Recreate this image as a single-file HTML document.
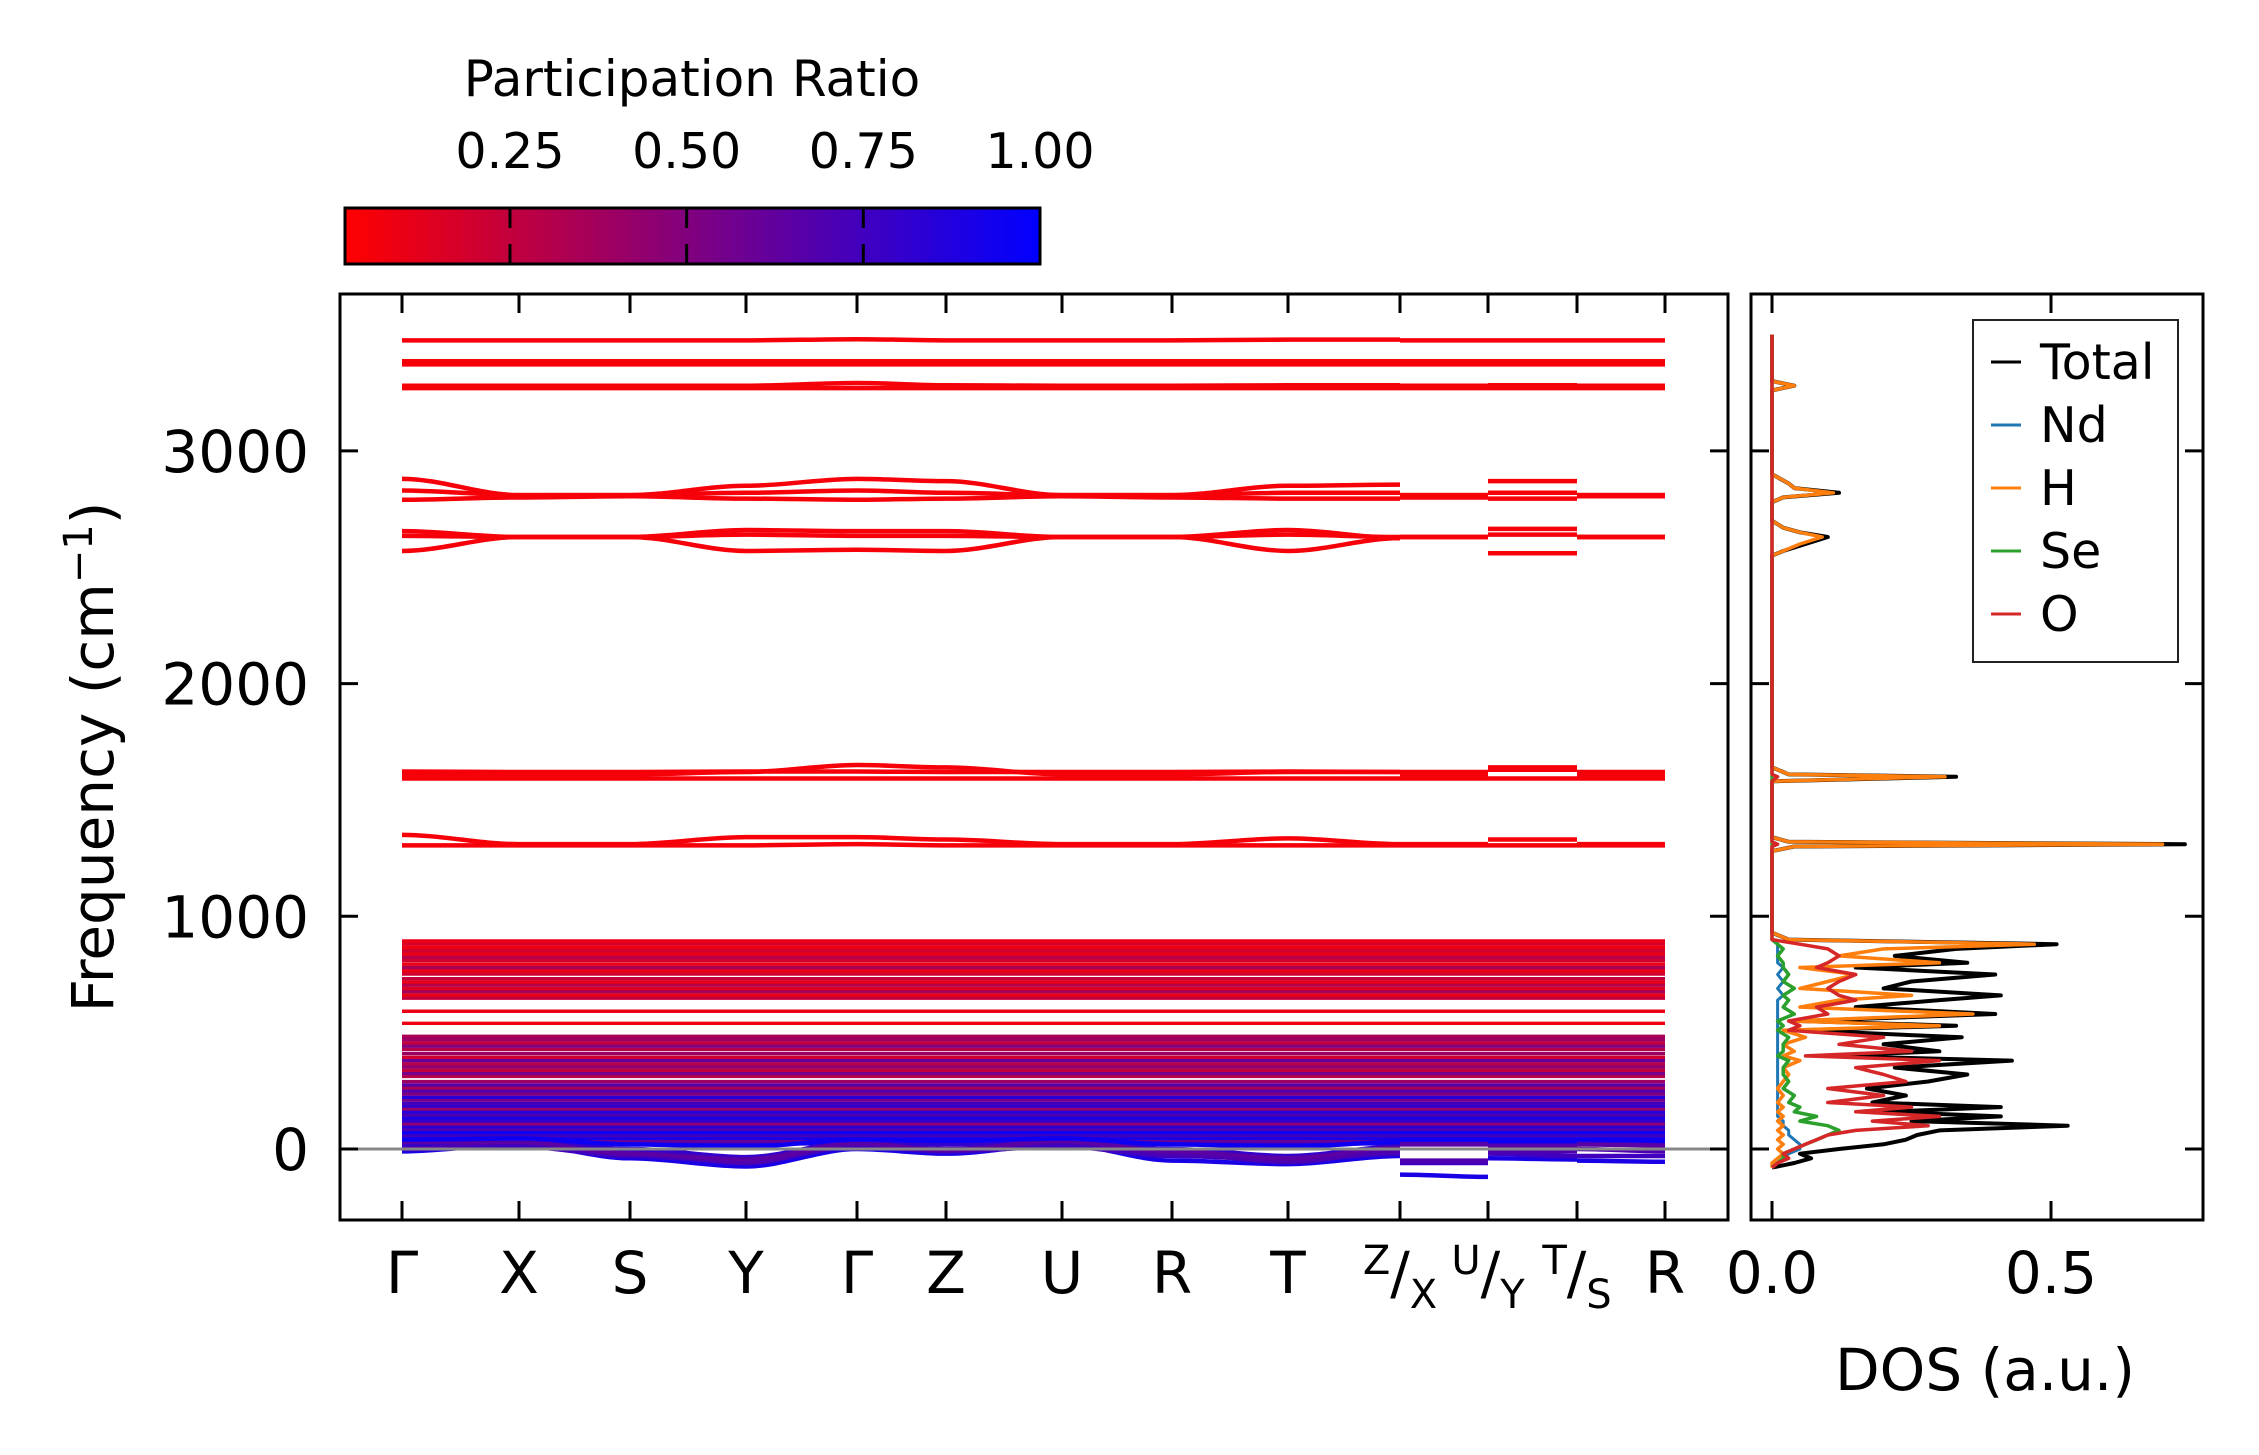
<!DOCTYPE html>
<html><head><meta charset="utf-8"><style>
html,body{margin:0;padding:0;background:#fff}
svg{display:block;font-family:"DejaVu Sans","Liberation Sans",sans-serif}
</style></head><body>
<svg id="fig" width="2259" height="1455" viewBox="0 0 2259 1455" xmlns="http://www.w3.org/2000/svg">
<defs>
<linearGradient id="cbgrad" x1="0" x2="1" y1="0" y2="0"><stop offset="0" stop-color="#ff0000"/><stop offset="1" stop-color="#0000ff"/></linearGradient>
<clipPath id="mainclip"><rect x="340" y="294" width="1388" height="926"/></clipPath>
<clipPath id="dosclip"><rect x="1751" y="294" width="452" height="926"/></clipPath>
</defs>
<g>
<text x="692" y="96" font-size="50" text-anchor="middle">Participation Ratio</text>
<rect x="345" y="208" width="695" height="56" fill="url(#cbgrad)" stroke="#000" stroke-width="3"/>
<g id="cbticks"></g>
</g>
<g id="main">
<g id="bands" clip-path="url(#mainclip)"></g>
<line x1="340" x2="1728" y1="1149" y2="1149" stroke="#888" stroke-width="3"/>
<rect x="340" y="294" width="1388" height="926" fill="none" stroke="#000" stroke-width="3"/>
<g id="mainaxes"></g>
<text transform="translate(113,757) rotate(-90)" font-size="58" text-anchor="middle">Frequency (cm<tspan dy="-21" font-size="40">−1</tspan><tspan dy="21">)</tspan></text>
</g>
<g id="dos">
<g id="doslines" clip-path="url(#dosclip)"></g>
<rect x="1751" y="294" width="452" height="926" fill="none" stroke="#000" stroke-width="3"/>
<g id="dosaxes"></g>
<text x="1985" y="1390" font-size="58" text-anchor="middle">DOS (a.u.)</text>
<g>
<rect x="1973" y="320" width="205" height="342" fill="#fff" stroke="#222" stroke-width="2"/>
<g id="legend"></g>
</g>
</g>
</svg>
<script>
// ---------- data ----------
const kLabels = ["Γ","X","S","Y","Γ","Z","U","R","T","Z/X","U/Y","T/S","R"];
const kDist = [0,0.117,0.228,0.344,0.455,0.544,0.660,0.770,0.886,0.998,1.086,1.175,1.263];
const yTicks = [0,1000,2000,3000];
const cbTicks = [0.25,0.50,0.75,1.00];
const cbTickLabels = ["0.25","0.50","0.75","1.00"];
// node order: Γ X S Y Γ Z U R T Z | X U | Y T | S R
const curvedBands = [
 [3475,3475,3475,3475,3480,3475,3475,3475,3478,3478,3475,3475,3475,3475,3475,3475],
 [3385,3385,3385,3385,3385,3385,3385,3385,3385,3385,3385,3385,3385,3385,3385,3385],
 [3372,3372,3372,3372,3372,3372,3372,3372,3372,3372,3372,3372,3372,3372,3372,3372],
 [3280,3280,3280,3280,3292,3282,3280,3280,3282,3282,3280,3280,3282,3282,3280,3280],
 [3270,3270,3270,3270,3270,3270,3270,3270,3270,3270,3270,3270,3270,3270,3270,3270],
 [2880,2810,2810,2850,2880,2870,2810,2810,2850,2855,2810,2810,2870,2870,2810,2810],
 [2830,2810,2810,2820,2830,2820,2810,2810,2820,2820,2810,2810,2820,2820,2810,2810],
 [2790,2800,2805,2795,2790,2795,2805,2800,2795,2795,2800,2800,2795,2795,2805,2805],
 [2655,2630,2630,2660,2655,2655,2630,2630,2660,2625,2630,2630,2665,2665,2630,2630],
 [2635,2630,2630,2640,2635,2635,2630,2630,2640,2630,2630,2630,2640,2640,2630,2630],
 [2570,2630,2630,2570,2575,2570,2630,2630,2570,2625,2630,2630,2560,2560,2630,2630],
 [1622,1620,1620,1622,1622,1620,1620,1620,1622,1620,1620,1620,1640,1640,1620,1620],
 [1610,1610,1610,1620,1650,1640,1610,1610,1620,1620,1610,1610,1630,1630,1610,1610],
 [1592,1592,1592,1592,1592,1592,1592,1592,1592,1592,1592,1592,1592,1592,1592,1592],
 [1350,1310,1310,1340,1340,1330,1310,1310,1335,1310,1310,1310,1330,1330,1310,1310],
 [1305,1305,1305,1305,1310,1305,1305,1305,1305,1305,1305,1305,1305,1305,1305,1305],
 [-10,20,-40,-75,0,-20,20,-50,-65,-30,-110,-120,-40,-45,-50,-55],
 [0,10,-30,-55,10,-10,10,-30,-45,-20,-60,-60,-20,-30,-30,-30],
 [10,30,-10,-60,20,0,30,-20,-55,-10,-50,-50,-10,-10,0,-10],
 [20,40,0,-35,30,20,40,0,-30,10,30,30,20,20,30,20],
 [30,30,-20,-45,25,-5,35,-10,-40,5,20,20,10,10,20,15],
 [40,45,20,10,40,35,45,20,10,30,40,40,35,35,40,35]
];
const curvedPR = [0.05,0.05,0.05,0.05,0.05,0.05,0.05,0.05,0.05,0.05,0.05,0.05,0.05,0.05,0.05,0.05,0.9,0.75,0.7,0.8,0.65,0.95];
const denseFreq = [22,34,46,58,70,84,96,108,120,134,146,158,172,184,196,210,222,236,250,262,275,290,312,325,338,352,366,380,394,410,428,442,456,470,484,540,592,648,662,676,690,704,718,732,752,766,780,794,810,824,838,852,866,880,894];
const densePR = [0.85,0.6,0.9,0.75,0.95,0.7,0.85,0.45,0.8,0.9,0.7,0.85,0.4,0.8,0.75,0.55,0.85,0.5,0.7,0.35,0.65,0.4,0.3,0.55,0.25,0.45,0.3,0.6,0.2,0.4,0.3,0.5,0.25,0.4,0.35,0.08,0.1,0.25,0.1,0.35,0.15,0.3,0.1,0.25,0.2,0.1,0.35,0.1,0.2,0.3,0.1,0.2,0.08,0.15,0.1];

const dosFreq = [-80,-60,-40,-20,0,20,40,60,80,100, 120,140,160,180,200,230,260,290,320,350, 380,400,420,450,480,510,530,550,580,610, 640,660,690,720,750,780,800,830,860,880, 900,930,1280,1300,1310,1320,1340,1580,1600,1610, 1620,1640,2550,2570,2600,2630,2650,2670,2700,2780, 2800,2820,2840,2860,2900,3260,3280,3300,3500];
const dosTotal = [0,0.04,0.07,0.05,0.12,0.2,0.24,0.26,0.3,0.53, 0.25,0.41,0.2,0.41,0.18,0.24,0.17,0.28,0.35,0.22, 0.43,0.1,0.3,0.2,0.34,0.05,0.33,0.05,0.4,0.15, 0.3,0.41,0.2,0.25,0.4,0.15,0.35,0.22,0.33,0.51, 0.03,0,0,0.04,0.74,0.03,0,0,0.33,0.03, 0.02,0,0,0.02,0.06,0.1,0.05,0.02,0,0, 0.02,0.12,0.04,0.03,0,0,0.04,0,0];
const dosH = [0,0,0.01,0.02,0.01,0.02,0.01,0.02,0.01,0.02, 0.01,0.02,0.01,0.02,0.01,0.02,0.01,0.02,0.03,0.02, 0.05,0.02,0.04,0.02,0.06,0.02,0.3,0.03,0.36,0.05, 0.12,0.25,0.05,0.1,0.15,0.05,0.3,0.12,0.2,0.47, 0.03,0,0,0.04,0.7,0.03,0,0,0.31,0.03, 0.02,0,0,0.02,0.05,0.09,0.05,0.02,0,0, 0.02,0.11,0.04,0.03,0,0,0.04,0,0];
const dosO = [0,0.01,0.03,0.02,0.04,0.06,0.08,0.1,0.15,0.28, 0.18,0.3,0.15,0.25,0.1,0.2,0.1,0.24,0.2,0.15, 0.3,0.06,0.25,0.12,0.2,0.03,0.05,0.03,0.1,0.08, 0.15,0.12,0.1,0.12,0.15,0.08,0.1,0.12,0.1,0.05, 0,0,0,0,0.01,0,0,0,0.01,0, 0,0,0,0,0,0,0,0,0,0, 0,0,0,0,0,0,0,0,0];
const dosSe = [0,0.01,0.02,0.02,0.04,0.06,0.08,0.1,0.12,0.1, 0.05,0.08,0.04,0.05,0.03,0.04,0.02,0.03,0.02,0.02, 0.03,0.01,0.02,0.02,0.03,0.01,0.02,0.01,0.04,0.02, 0.03,0.02,0.04,0.02,0.03,0.02,0.02,0.01,0.02,0.01, 0,0,0,0,0,0,0,0,0,0, 0,0,0,0,0,0,0,0,0,0, 0,0,0,0,0,0,0,0,0];
const dosNd = [0,0.01,0.02,0.03,0.05,0.05,0.04,0.03,0.03,0.02, 0.02,0.01,0.01,0.01,0.01,0.01,0.01,0.01,0.01,0.01, 0.01,0.01,0.01,0.01,0.01,0.01,0.01,0.01,0.01,0.01, 0.01,0.02,0.01,0.02,0.01,0.02,0.01,0.01,0.01,0.01, 0,0,0,0,0,0,0,0,0,0, 0,0,0,0,0,0,0,0,0,0, 0,0,0,0,0,0,0,0,0];
const dosSeriesNames = ["Total","Nd","H","Se","O"];
const dosTicks = [0.0,0.5];
const dosTickLabels = ["0.0","0.5"];

// ---------- scales ----------
const NS="http://www.w3.org/2000/svg";
const yS = f => 1149 - f*0.2327;
const xS = k => 402 + k*1000;
const dX = v => 1772 + v*558;
const cbX = v => 1040 - (1-v)*706.7;
function prColor(v){const t=Math.max(0,Math.min(1,(v-0.015)/0.985));return `rgb(${Math.round(255*(1-t))},0,${Math.round(255*t)})`;}
function mk(tag,attrs,parent){const e=document.createElementNS(NS,tag);for(const k in attrs)e.setAttribute(k,attrs[k]);parent.appendChild(e);return e;}
const segs=[[0,1,0,1],[1,2,1,2],[2,3,2,3],[3,4,3,4],[4,5,4,5],[5,6,5,6],[6,7,6,7],[7,8,7,8],[8,9,8,9],[10,11,9,10],[12,13,10,11],[14,15,11,12]];

// ---------- colorbar ticks ----------
const cbg=document.getElementById('cbticks');
cbTicks.forEach((v,i)=>{
  const x=cbX(v);
  if(i<cbTicks.length-1){
    const l1=mk('line',{x1:x,x2:x,y1:208,y2:228,stroke:'#000','stroke-width':3},cbg);
    
    
    const l2=mk('line',{x1:x,x2:x,y1:244,y2:264,stroke:'#000','stroke-width':3},cbg);
    
    
  }
  const t=mk('text',{x:x,y:168,'font-size':49,'text-anchor':'middle'},cbg);
  t.textContent=cbTickLabels[i];
  
  
});

// ---------- bands ----------
const bg=document.getElementById('bands');
function drawBand(vals,pr,w){
  segs.forEach(s=>{
    const x0=xS(kDist[s[2]]),x1=xS(kDist[s[3]]),y0=yS(vals[s[0]]),y1=yS(vals[s[1]]);
    const dx=(x1-x0)/3;
    const p=mk('path',{d:`M${x0},${y0} C${x0+dx},${y0} ${x1-dx},${y1} ${x1},${y1}`,fill:'none',stroke:prColor(pr),'stroke-width':w},bg);
    
    
  });
}
denseFreq.forEach((f,i)=>{drawBand(Array(16).fill(f),densePR[i],3.4);});
curvedBands.forEach((b,i)=>drawBand(b,curvedPR[i],4.5));

// ---------- main axes ----------
const ma=document.getElementById('mainaxes');
kDist.forEach((k,i)=>{
  const x=xS(k);
  const a=mk('line',{x1:x,x2:x,y1:294,y2:313,stroke:'#000','stroke-width':3},ma);
  
  
  const b=mk('line',{x1:x,x2:x,y1:1201,y2:1220,stroke:'#000','stroke-width':3},ma);
  
  
  const lab=kLabels[i];
  const t=mk('text',{x:x,y:1293,'font-size':58,'text-anchor':'middle'},ma);
  
  
  if(lab.indexOf('/')>0){
    const [a1,b1]=lab.split('/');
    const s1=mk('tspan',{'font-size':40,dy:-19},t);s1.textContent=a1;
    const s2=mk('tspan',{dy:19},t);s2.textContent='/';
    const s3=mk('tspan',{'font-size':40,dy:15},t);s3.textContent=b1;
  } else t.textContent=lab;
});
yTicks.forEach(v=>{
  const y=yS(v);
  const a=mk('line',{x1:340,x2:358,y1:y,y2:y,stroke:'#000','stroke-width':3},ma);
  
  
  const b=mk('line',{x1:1710,x2:1728,y1:y,y2:y,stroke:'#000','stroke-width':3},ma);
  
  
  const t=mk('text',{x:309,y:y+21,'font-size':58,'text-anchor':'end'},ma);
  t.textContent=String(v);
  
  
});

// ---------- DOS ----------
const dl=document.getElementById('doslines');
const dosData=[dosTotal,dosNd,dosH,dosSe,dosO];
const dosColors=['#000000','#1f77b4','#ff7f0e','#2ca02c','#d62728'];
const dosWidths=[4,3,3.5,3.5,3.5];
dosData.forEach((arr,si)=>{
  const pts=arr.map((v,i)=>`${dX(v).toFixed(1)},${yS(dosFreq[i]).toFixed(1)}`).join(' ');
  const p=mk('polyline',{points:pts,fill:'none',stroke:dosColors[si],'stroke-width':dosWidths[si],'stroke-linejoin':'round'},dl);
  
  
});
const da=document.getElementById('dosaxes');
dosTicks.forEach((v,i)=>{
  const x=dX(v);
  const a=mk('line',{x1:x,x2:x,y1:294,y2:313,stroke:'#000','stroke-width':3},da);
  
  
  const b=mk('line',{x1:x,x2:x,y1:1201,y2:1220,stroke:'#000','stroke-width':3},da);
  
  
  const t=mk('text',{x:x,y:1293,'font-size':58,'text-anchor':'middle'},da);
  t.textContent=dosTickLabels[i];
  
  
});
yTicks.forEach(v=>{
  const y=yS(v);
  const a=mk('line',{x1:1751,x2:1769,y1:y,y2:y,stroke:'#000','stroke-width':3},da);
  
  
  const b=mk('line',{x1:2185,x2:2203,y1:y,y2:y,stroke:'#000','stroke-width':3},da);
  
  
});
const lg=document.getElementById('legend');
dosSeriesNames.forEach((n,i)=>{
  const y=362+i*63;
  const l=mk('line',{x1:1991,x2:2021,y1:y,y2:y,stroke:dosColors[i],'stroke-width':3},lg);
  
  
  const t=mk('text',{x:2040,y:y+17,'font-size':49},lg);
  t.textContent=n;
  
  
});
</script>
</body></html>
